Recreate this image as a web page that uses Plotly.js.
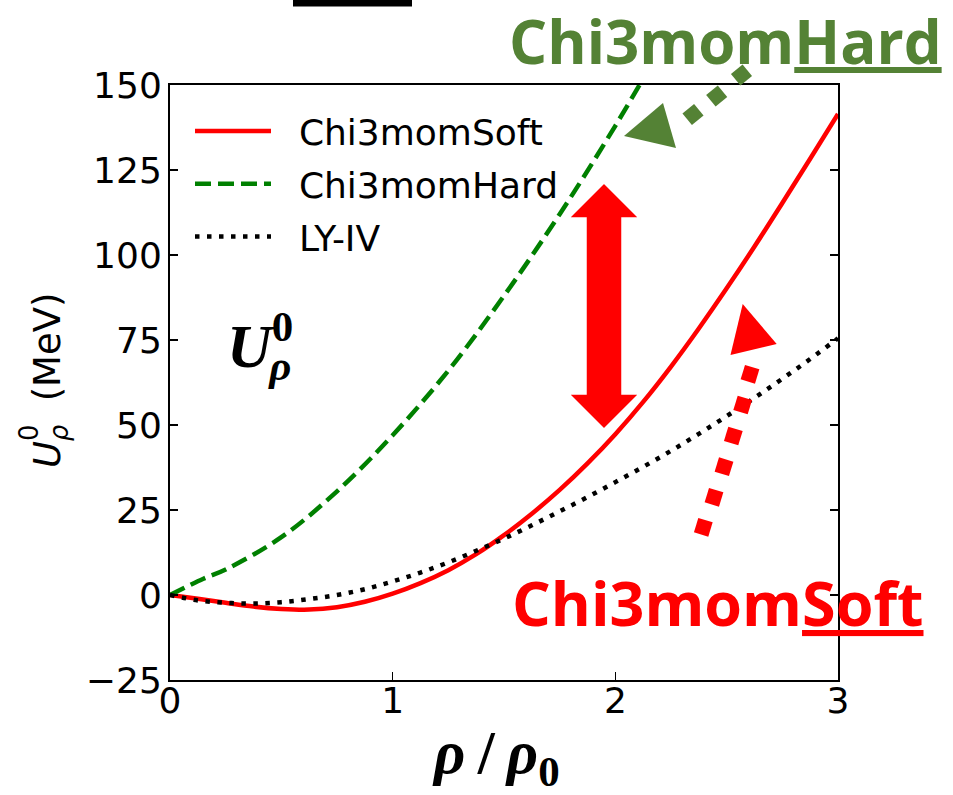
<!DOCTYPE html>
<html>
<head>
<meta charset="utf-8">
<script src="https://cdn.plot.ly/plotly-3.0.1.min.js"></script>
<style>
  html, body { margin: 0; padding: 0; background: #ffffff; }
  #chart { width: 953px; height: 795px; }
</style>
</head>
<body>
<div id="chart"></div>
<script>
// Density-dependent rho-meson potential U_rho^0 (MeV) versus rho/rho0
const softX = [0, 0.125, 0.25, 0.375, 0.5, 0.625, 0.75, 0.875, 1.0, 1.125, 1.25, 1.375, 1.5,
               1.625, 1.75, 1.875, 2.0, 2.125, 2.25, 2.375, 2.5, 2.625, 2.75, 2.875, 3.0];
const softU = [0, -1.1, -2.3, -3.4, -4.1, -4.3, -3.6, -2.0, 0.4, 3.5, 7.3, 12, 17.6,
               23.9, 30.9, 38.7, 47.3, 56.8, 67.2, 78.4, 90.2, 102.5, 115.3, 128.3, 141.5];

const hardX = [0, 0.15, 0.25, 0.5, 0.75, 1.0, 1.25, 1.5, 1.75, 2.0, 2.25];
const hardU = [0, 4.8, 7.5, 17, 30.5, 47, 66, 88, 112, 138, 166];

const lyX = [0, 0.125, 0.25, 0.375, 0.5, 0.625, 0.75, 0.875, 1.0, 1.125, 1.25, 1.375, 1.5,
             1.625, 1.75, 1.875, 2.0, 2.125, 2.25, 2.375, 2.5, 2.625, 2.75, 2.875, 3.0];
const lyU = [0, -1.6, -2.3, -2.5, -2.1, -1.2, 0, 1.7, 4, 6.6, 9.6, 13, 16.6,
             20.5, 24.6, 28.8, 33.2, 37.7, 42.4, 47.4, 52.6, 58, 63.6, 69.4, 75.5];

const seriesNames = ['Chi3momSoft', 'Chi3momHard', 'LY-IV'];
const xTicks = [0, 1, 2, 3];
const yTicks = [-25, 0, 25, 50, 75, 100, 125, 150];

// plot-area box in page pixels, used to place decorations in paper units
const L = 170, R = 838, T = 85, B = 680;
const px = x => (x - L) / (R - L);
const py = y => (B - y) / (B - T);

function pathOf(pts) {
  return 'M' + pts.map(p => px(p[0]).toFixed(5) + ',' + py(p[1]).toFixed(5)).join('L') + 'Z';
}
function squareAt(cx, cy, side, dx, dy) {
  const n = Math.hypot(dx, dy);
  const ux = dx / n * side / 2, uy = dy / n * side / 2;
  const vx = -uy, vy = ux;
  return pathOf([
    [cx + ux + vx, cy + uy + vy],
    [cx + ux - vx, cy + uy - vy],
    [cx - ux - vx, cy - uy - vy],
    [cx - ux + vx, cy - uy + vy]
  ]);
}

const GREEN = '#548235';
const RED = '#ff0000';
const GAP = '\u00a0\u00a0';   // space between legend line and its label

const traces = [
  { x: softX, y: softU, name: GAP + seriesNames[0], legendgroup: 'a', mode: 'lines',
    line: { color: RED, width: 4.5, shape: 'spline' } },
  { x: hardX, y: hardU, name: GAP + seriesNames[1], legendgroup: 'b', mode: 'lines',
    line: { color: '#008000', width: 4.5, dash: '16px,7px', shape: 'spline' } },
  { x: lyX, y: lyU, name: GAP + seriesNames[2], legendgroup: 'c', mode: 'lines',
    line: { color: '#000000', width: 4.5, dash: '4.5px,7.5px', shape: 'spline' } }
];

const shapes = [];
// black bar at the top edge
shapes.push({ type: 'path', xref: 'paper', yref: 'paper',
  path: pathOf([[293, 0], [412, 0], [412, 6.5], [293, 6.5]]),
  fillcolor: '#000', line: { width: 0 } });
// double-headed gap arrow
shapes.push({ type: 'path', xref: 'paper', yref: 'paper',
  path: pathOf([[604, 183], [639, 218], [622, 218], [622, 394], [639, 394], [604, 429],
                [569, 394], [586, 394], [586, 218], [569, 218]]),
  fillcolor: RED, line: { color: '#ffffff', width: 1.5 } });
// dotted green pointer to the stiff curve
[[741.5, 75], [716.7, 96], [693, 114.5]].forEach(c => {
  shapes.push({ type: 'path', xref: 'paper', yref: 'paper',
    path: squareAt(c[0], c[1], 15, -48.5, 39.5), fillcolor: GREEN, line: { width: 0 } });
});
shapes.push({ type: 'path', xref: 'paper', yref: 'paper',
  path: pathOf([[663, 103], [676, 148], [624, 136]]), fillcolor: GREEN, line: { width: 0 } });
// dotted red pointer to the soft curve
[[750, 374.3], [742.7, 405], [733.3, 436], [724, 466.7], [714, 497.3], [703.3, 527.3]].forEach(c => {
  shapes.push({ type: 'path', xref: 'paper', yref: 'paper',
    path: squareAt(c[0], c[1], 15, -46.7, 153), fillcolor: RED, line: { width: 0 } });
});
shapes.push({ type: 'path', xref: 'paper', yref: 'paper',
  path: pathOf([[742.7, 304], [776.7, 344], [730.5, 355]]), fillcolor: RED, line: { width: 0 } });

const SANS = 'DejaVu Sans';
const SERIF = 'Liberation Serif';
const BOLDSANS = 'Open Sans';

function note(text, x, y, font, extra) {
  return Object.assign({ text: text, x: px(x), y: py(y), xref: 'paper', yref: 'paper',
    showarrow: false, xanchor: 'center', yanchor: 'middle', font: font }, extra || {});
}
// small raised/lowered run of text; back > 0 pulls the following text back over it
function shifted(text, size, shift, back) {
  let st = 'font-size:' + size + 'px;baseline-shift:' + shift + 'px';
  if (back) st += ';letter-spacing:-' + back + 'px';
  return '<span style="' + st + '">' + text + '</span>';
}

const annotations = [
  note('<b>Chi3mom<u>Hard</u></b>', 725, 41, { family: BOLDSANS, size: 60, color: GREEN }),
  note('<b>Chi3mom<u>Soft</u></b>', 718, 602, { family: BOLDSANS, size: 61, color: RED }),
  // in-panel label U_rho^0
  note('<b><i>U</i>' + shifted('0', 43, 26, 24) + shifted('<i>ρ</i>', 43, -13) + '</b>', 259, 350,
       { family: SERIF, size: 62, color: '#000' }),
  // x-axis title
  note('<b><i>ρ</i>\u2009/\u2009<i>ρ</i>' + shifted('0', 43, -13) + '</b>', 496, 757,
       { family: SERIF, size: 61, color: '#000' }),
  // y-axis title, rotated
  note('<i>U</i>' + shifted('0', 26, 22, 17) + shifted('<i>ρ</i>', 26, -8) + '\u00a0 (MeV)', 46, 380,
       { family: SANS, size: 37, color: '#000' }, { textangle: -90 })
];

const axisCommon = {
  showgrid: false, zeroline: false, ticks: 'inside', ticklen: 8, tickwidth: 1.5,
  tickcolor: '#000', showline: true, linecolor: '#000', linewidth: 2,
  tickfont: { family: SANS, size: 36, color: '#000' }
};

const layout = {
  width: 953, height: 795,
  margin: { l: L, r: 953 - R, t: T, b: 795 - B, pad: 0 },
  paper_bgcolor: '#ffffff', plot_bgcolor: '#ffffff',
  xaxis: Object.assign({}, axisCommon, { range: [0, 3], tickvals: xTicks, ticktext: xTicks.map(String),
    mirror: true, ticklabelstandoff: -12 }),
  yaxis: Object.assign({}, axisCommon, { range: [-25, 150], tickvals: yTicks,
    ticktext: yTicks.map(v => v < 0 ? '\u2212' + Math.abs(v) : String(v)),
    mirror: 'ticks', ticklabelstandoff: -1 }),
  showlegend: true,
  legend: { x: px(190), y: py(101), xanchor: 'left', yanchor: 'top',
    font: { family: SANS, size: 36, color: '#000' }, bgcolor: 'rgba(0,0,0,0)',
    borderwidth: 0, itemwidth: 76, tracegroupgap: 3 },
  shapes: shapes,
  annotations: annotations
};

Plotly.newPlot('chart', traces, layout, { displayModeBar: false, staticPlot: true });
</script>
</body>
</html>
